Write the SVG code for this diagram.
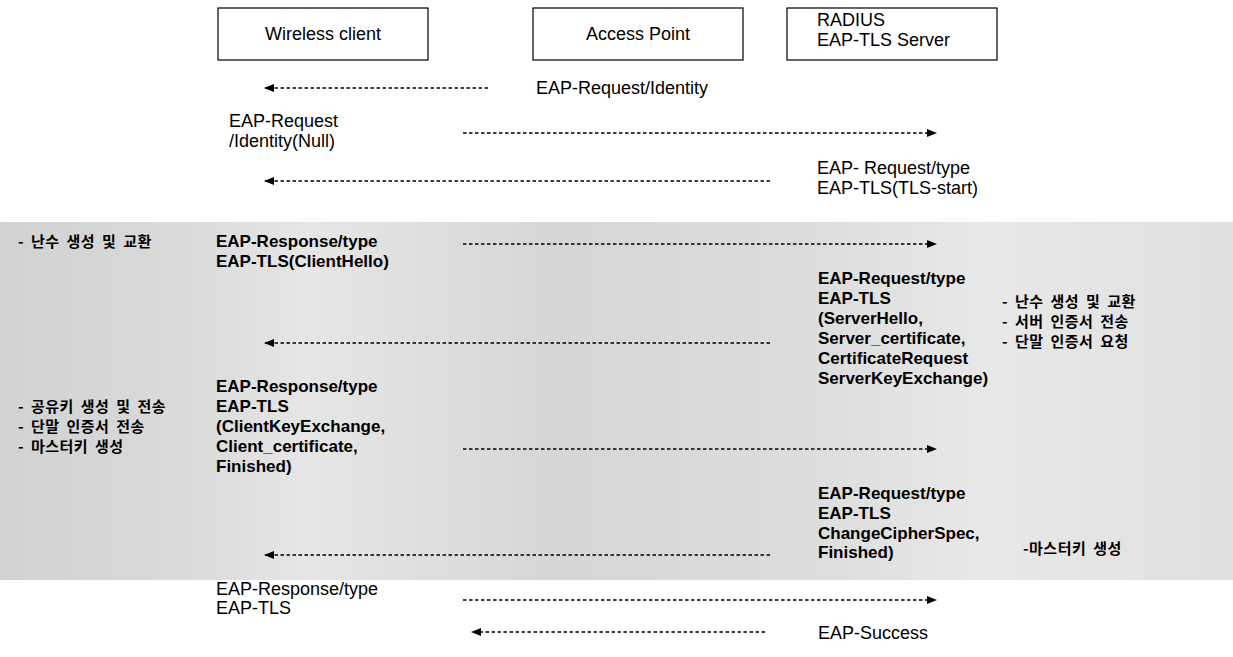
<svg xmlns="http://www.w3.org/2000/svg" width="1233" height="657" viewBox="0 0 1233 657">
<defs>
<linearGradient id="band" x1="0" y1="0" x2="1" y2="0">
<stop offset="0" stop-color="#d2d2d2"/>
<stop offset="0.15" stop-color="#dadada"/>
<stop offset="0.25" stop-color="#e6e6e6"/>
<stop offset="0.45" stop-color="#d6d6d6"/>
<stop offset="0.65" stop-color="#dcdcdc"/>
<stop offset="0.8" stop-color="#e8e8e8"/>
<stop offset="1" stop-color="#e0e0e0"/>
</linearGradient>
<marker id="ah" viewBox="0 0 10 10" refX="9" refY="5" markerWidth="10" markerHeight="10" markerUnits="userSpaceOnUse" orient="auto">
<path d="M0,1 L10,5 L0,9 Z" fill="#000"/>
</marker>
<style>
.box{fill:#fff;stroke:#000;stroke-width:1.2}
.t{font-family:"Liberation Sans",Arial,sans-serif;font-size:18px;fill:#000}
.b{font-family:"Liberation Sans",Arial,sans-serif;font-size:17px;font-weight:bold;fill:#000}
.k{font-family:"Noto Sans CJK KR",sans-serif;font-size:15px;font-weight:bold;fill:#000;letter-spacing:0.5px;word-spacing:3px}
.ar{stroke:#000;stroke-width:1.4;stroke-dasharray:3.5 2.5;fill:none;marker-end:url(#ah)}
</style>
</defs>
<rect width="1233" height="657" fill="#fff"/>
<rect x="0" y="222" width="1233" height="358" fill="url(#band)"/>

<g id="node-client">
<rect class="box" x="218" y="8" width="210" height="52"/>
<text class="t" x="323" y="40" text-anchor="middle">Wireless client</text>
</g>
<g id="node-ap">
<rect class="box" x="533" y="8" width="210" height="52"/>
<text class="t" x="638" y="40" text-anchor="middle">Access Point</text>
</g>
<g id="node-radius">
<rect class="box" x="787" y="8" width="210" height="52"/>
<text class="t" x="817" y="26">RADIUS</text>
<text class="t" x="817" y="46">EAP-TLS Server</text>
</g>

<g id="connectors">
<line class="ar" x1="488" y1="88" x2="265" y2="88"/>
<line class="ar" x1="463" y1="133" x2="936" y2="133"/>
<line class="ar" x1="770" y1="181" x2="265" y2="181"/>
<line class="ar" x1="463" y1="244" x2="936" y2="244"/>
<line class="ar" x1="770" y1="343" x2="265" y2="343"/>
<line class="ar" x1="463" y1="449" x2="936" y2="449"/>
<line class="ar" x1="770" y1="555" x2="265" y2="555"/>
<line class="ar" x1="463" y1="600" x2="936" y2="600"/>
<line class="ar" x1="765" y1="632" x2="472" y2="632"/>
</g>

<g id="labels">
<text class="t" x="536" y="94">EAP-Request/Identity</text>
<text class="t" x="229" y="127">EAP-Request</text>
<text class="t" x="229" y="147">/Identity(Null)</text>
<text class="t" x="817" y="174">EAP- Request/type</text>
<text class="t" x="817" y="194">EAP-TLS(TLS-start)</text>

<text class="k" x="18" y="247">- 난수 생성 및 교환</text>
<text class="b" x="216" y="247">EAP-Response/type</text>
<text class="b" x="216" y="267">EAP-TLS(ClientHello)</text>

<text class="b" x="818" y="284">EAP-Request/type</text>
<text class="b" x="818" y="304">EAP-TLS</text>
<text class="b" x="818" y="324">(ServerHello,</text>
<text class="b" x="818" y="344">Server_certificate,</text>
<text class="b" x="818" y="364">CertificateRequest</text>
<text class="b" x="818" y="384">ServerKeyExchange)</text>
<text class="k" x="1002" y="307">- 난수 생성 및 교환</text>
<text class="k" x="1002" y="327">- 서버 인증서 전송</text>
<text class="k" x="1002" y="347">- 단말 인증서 요청</text>

<text class="b" x="216" y="392">EAP-Response/type</text>
<text class="b" x="216" y="412">EAP-TLS</text>
<text class="b" x="216" y="432">(ClientKeyExchange,</text>
<text class="b" x="216" y="452">Client_certificate,</text>
<text class="b" x="216" y="472">Finished)</text>
<text class="k" x="18" y="412">- 공유키 생성 및 전송</text>
<text class="k" x="18" y="432">- 단말 인증서 전송</text>
<text class="k" x="18" y="452">- 마스터키 생성</text>

<text class="b" x="818" y="499">EAP-Request/type</text>
<text class="b" x="818" y="519">EAP-TLS</text>
<text class="b" x="818" y="539">ChangeCipherSpec,</text>
<text class="b" x="818" y="558">Finished)</text>
<text class="k" x="1023" y="554">-마스터키 생성</text>

<text class="t" x="216" y="595">EAP-Response/type</text>
<text class="t" x="216" y="614">EAP-TLS</text>
<text class="t" x="818" y="639">EAP-Success</text>
</g>
</svg>
